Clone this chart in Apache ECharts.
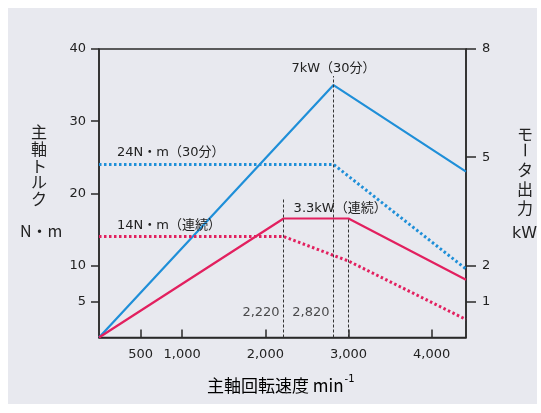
<!DOCTYPE html>
<html>
<head>
<meta charset="utf-8">
<script src="https://cdn.jsdelivr.net/npm/echarts@6/dist/echarts.min.js"></script>
<style>
  html, body { margin: 0; padding: 0; background: #ffffff; }
  #chart { width: 541px; height: 413px; }
</style>
</head>
<body>
<div id="chart"></div>
<script>
// Spindle output diagram: motor power (kW, right axis) and spindle torque (N·m, left axis)
// against spindle speed (min^-1).

// axis ranges and tick positions
const speedMax = 4413;
const speedTicks = [500, 1000, 2000, 3000, 4000];
const torqueTicks = [5, 10, 20, 30, 40];
const powerTicks = [1, 2, 5, 8];

// 30-minute rating
const speed30 = [0, 2820, 4413];
const power30 = [0, 7, 4.6];          // kW
const torqueSpeed30 = [0, 2820, 4413];
const torque30 = [24, 24, 9.5];       // N·m

// continuous rating
const speedCont = [0, 2220, 3000, 4413];
const powerCont = [0, 3.3, 3.3, 1.6]; // kW
const torqueSpeedCont = [0, 2220, 3000, 4413];
const torqueCont = [14, 14, 10.6, 2.5]; // N·m

// base speeds marked by vertical guide lines
const baseSpeeds = [2220, 2820];

const BLUE = '#1f8fd8';
const PINK = '#e2205f';
const INK = '#222222';
const AXIS = '#2a2a2a';
const FONT = '"DejaVu Sans", "Noto Sans CJK JP", sans-serif';
const CJK = '"Noto Sans CJK JP", "DejaVu Sans", sans-serif';

const zip = (xs, ys) => xs.map((x, i) => [x, ys[i]]);
const thousands = v => String(v).replace(/\B(?=(\d{3})+(?!\d))/g, ',');

const chart = echarts.init(document.getElementById('chart'), null, { renderer: 'canvas' });

const guide = { color: '#333', width: 1, type: [3, 2] };

// a line series whose vertices are invisible but can carry a caption
function rating(name, axis, xs, ys, color, dotted, labelIndex, caption, labelOpts) {
  return {
    name, type: 'line', yAxisIndex: axis, z: 3,
    symbol: 'circle', symbolSize: 0.01, showSymbol: true,
    itemStyle: { color },
    lineStyle: dotted ? { color, width: 3, type: [2.5, 2.5], cap: 'butt' } : { color, width: 2.2 },
    emphasis: { disabled: true },
    data: zip(xs, ys).map((p, i) => i === labelIndex ? {
      value: p,
      label: Object.assign({ show: true, formatter: caption, fontSize: 13, color: INK, fontFamily: FONT }, labelOpts)
    } : p)
  };
}

const option = {
  animation: false,
  backgroundColor: '#ffffff',
  textStyle: { fontFamily: FONT },
  grid: {
    left: 99, top: 49, width: 367, height: 288.5,
    show: true, borderColor: AXIS, borderWidth: 1.5, backgroundColor: 'transparent'
  },
  graphic: [
    { type: 'rect', z: -10, silent: true, shape: { x: 8, y: 8, width: 529, height: 396 }, style: { fill: '#e8e9ef' } },
    // left axis title, stacked vertically
    { type: 'text', left: 31, top: 124, silent: true,
      style: { text: '主\n軸\nト\nル\nク', font: '16px ' + CJK, lineHeight: 16.6, fill: INK } },
    { type: 'text', left: 20, top: 223, silent: true,
      style: { text: 'N・m', font: '16px ' + CJK, fill: INK } },
    // right axis title
    { type: 'text', left: 517, top: 126, silent: true,
      style: { text: 'モ', font: '16px ' + CJK, fill: INK } },
    { type: 'text', x: 525, y: 150, rotation: -Math.PI / 2, silent: true,
      style: { text: 'ー', font: '16px ' + CJK, fill: INK, align: 'center', verticalAlign: 'middle' } },
    { type: 'text', left: 517, top: 160, silent: true,
      style: { text: 'タ\n出\n力', font: '16px ' + CJK, lineHeight: 19, fill: INK } },
    { type: 'text', left: 512, top: 226, silent: true,
      style: { text: 'kW', font: '16px ' + FONT, fill: INK } },
    // x axis title
    { type: 'text', left: 207, top: 372, silent: true,
      style: {
        text: '{a|主軸回転速度 min}{s|-1}',
        rich: {
          a: { fontFamily: CJK, fontSize: 17, lineHeight: 22, color: INK, verticalAlign: 'bottom' },
          s: { fontFamily: FONT, fontSize: 10, lineHeight: 22, color: INK, verticalAlign: 'top', padding: [2, 0, 0, 1] }
        }
      } }
  ],
  xAxis: {
    type: 'value', min: 0, max: speedMax,
    axisLine: { show: true, onZero: false, lineStyle: { color: AXIS, width: 1.5 } },
    axisTick: { show: true, inside: true, length: 8, customValues: speedTicks, lineStyle: { color: AXIS, width: 1.5 } },
    axisLabel: { customValues: speedTicks, formatter: thousands, margin: 11, fontSize: 13, color: INK, fontFamily: FONT },
    splitLine: { show: false }
  },
  yAxis: [
    {
      type: 'value', min: 0, max: 40, position: 'left',
      axisLine: { show: true, onZero: false, lineStyle: { color: AXIS, width: 1.5 } },
      axisTick: { show: true, length: 8, customValues: torqueTicks, lineStyle: { color: AXIS, width: 1.5 } },
      axisLabel: { customValues: torqueTicks, margin: 13, fontSize: 13, color: INK, fontFamily: FONT },
      splitLine: { show: false }
    },
    {
      type: 'value', min: 0, max: 8, position: 'right',
      axisLine: { show: true, onZero: false, lineStyle: { color: AXIS, width: 1.5 } },
      axisTick: { show: true, length: 10, customValues: powerTicks, lineStyle: { color: AXIS, width: 1.5 } },
      axisLabel: { customValues: powerTicks, margin: 16, fontSize: 13, color: INK, fontFamily: FONT },
      splitLine: { show: false }
    }
  ],
  series: [
    {
      // vertical guide lines at the base speeds
      type: 'line', yAxisIndex: 1, data: [], z: 1, silent: true,
      markLine: {
        silent: true, symbol: ['none', 'none'], label: { show: false }, lineStyle: guide,
        data: [
          [{ coord: [baseSpeeds[0], 0] }, { coord: [baseSpeeds[0], 3.85] }],
          [{ coord: [baseSpeeds[1], 0] }, { coord: [baseSpeeds[1], 7.25] }],
          [{ coord: [speedCont[2], 0] }, { coord: [speedCont[2], powerCont[2]] }]
        ]
      }
    },
    rating('出力（30分）', 1, speed30, power30, BLUE, false, 1,
      `${power30[1]}kW（30分）`, { position: 'top', distance: 10 }),
    rating('トルク（30分）', 0, torqueSpeed30, torque30, BLUE, true, 0,
      `${torque30[0]}N・m（30分）`, { position: 'top', align: 'left', distance: 5, offset: [18, 0] }),
    rating('出力（連続）', 1, speedCont, powerCont, PINK, false, 1,
      `${powerCont[1]}kW（連続）`, { position: 'top', align: 'left', distance: 3, offset: [10, 0] }),
    rating('トルク（連続）', 0, torqueSpeedCont, torqueCont, PINK, true, 0,
      `${torqueCont[0]}N・m（連続）`, { position: 'top', align: 'left', distance: 4, offset: [18, 0] }),
    {
      // base speed captions beside the guide lines
      type: 'scatter', yAxisIndex: 1, symbolSize: 0, silent: true, z: 4,
      data: baseSpeeds.map(s => [s, 0.7]),
      label: { show: true, position: 'left', distance: 4, formatter: p => thousands(p.value[0]),
               fontSize: 13, color: INK, fontFamily: FONT }
    }
  ]
};

chart.setOption(option);
</script>
</body>
</html>
